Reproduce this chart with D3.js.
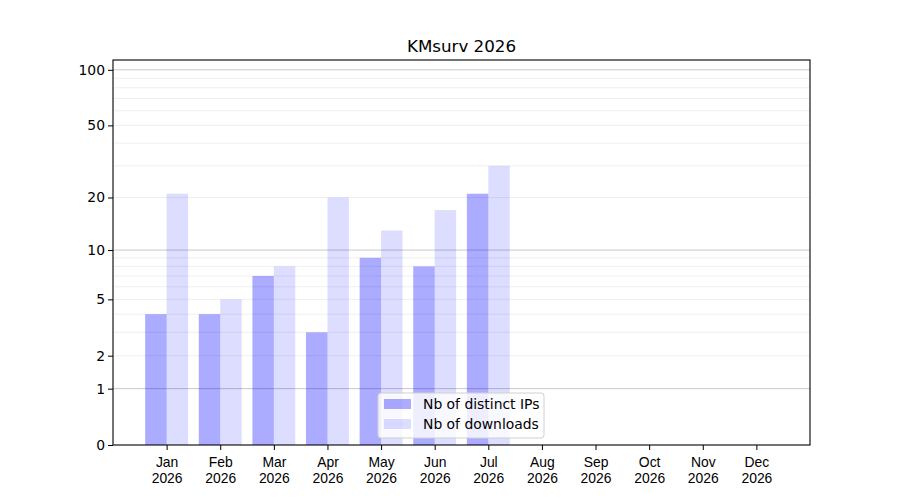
<!DOCTYPE html>
<html>
<head>
<meta charset="utf-8">
<script src="https://cdn.jsdelivr.net/npm/d3@7"></script>
<style>
  body { margin: 0; background: #fff; }
  svg { font-family: "DejaVu Sans", sans-serif; }
</style>
</head>
<body>
<div id="chart"></div>
<script>
// data
const months = ['Jan', 'Feb', 'Mar', 'Apr', 'May', 'Jun', 'Jul', 'Aug', 'Sep', 'Oct', 'Nov', 'Dec'];
const year = '2026';
const distinctIPs = [4, 4, 7, 3, 9, 8, 21, null, null, null, null, null];
const downloads = [21, 5, 8, 20, 13, 17, 30, null, null, null, null, null];
const yTicks = [0, 1, 2, 5, 10, 20, 50, 100];
const majorGrid = [1, 10, 100];
const minorGrid = [2, 3, 4, 5, 6, 7, 8, 9, 20, 30, 40, 50, 60, 70, 80, 90];

const width = 900, height = 500;
const margin = { top: 60, right: 90, bottom: 55, left: 113 };
const innerW = width - margin.left - margin.right;
const innerH = height - margin.top - margin.bottom;

const svg = d3.select('#chart').append('svg')
  .attr('width', width)
  .attr('height', height);

const g = svg.append('g')
  .attr('transform', `translate(${margin.left},${margin.top})`);

// month index scale, one empty slot on each side
const x = d3.scaleLinear().domain([-1, 12]).range([0, innerW]);
const y = d3.scaleSymlog().constant(1).domain([0, 113]).range([innerH, 0]);
const barW = (x(1) - x(0)) * 0.4;

// gridlines
g.selectAll('.minor').data(minorGrid).enter().append('line')
  .attr('x1', 0).attr('x2', innerW)
  .attr('y1', d => y(d)).attr('y2', d => y(d))
  .attr('stroke', '#ebebeb').attr('stroke-width', 0.8);
g.selectAll('.major').data(majorGrid).enter().append('line')
  .attr('x1', 0).attr('x2', innerW)
  .attr('y1', d => y(d)).attr('y2', d => y(d))
  .attr('stroke', '#c8c8c8').attr('stroke-width', 1);

// bars
const ipData = distinctIPs.map((v, i) => ({ i, v })).filter(d => d.v != null);
const dlData = downloads.map((v, i) => ({ i, v })).filter(d => d.v != null);

g.selectAll('.ip').data(ipData).enter().append('rect')
  .attr('x', d => x(d.i) - barW)
  .attr('width', barW)
  .attr('y', d => y(d.v))
  .attr('height', d => innerH - y(d.v))
  .attr('fill', 'blue').attr('fill-opacity', 0.33);

g.selectAll('.dl').data(dlData).enter().append('rect')
  .attr('x', d => x(d.i))
  .attr('width', barW)
  .attr('y', d => y(d.v))
  .attr('height', d => innerH - y(d.v))
  .attr('fill', 'blue').attr('fill-opacity', 0.135);

// axes
const xAxis = g.append('g')
  .attr('transform', `translate(0,${innerH})`)
  .call(d3.axisBottom(x).tickValues(d3.range(12)).tickSize(5).tickSizeOuter(0).tickFormat(''));
xAxis.selectAll('.tick').each(function(d) {
  const t = d3.select(this).append('text')
    .attr('fill', '#000').attr('font-size', '13.9px')
    .attr('text-anchor', 'middle').attr('y', 22);
  t.append('tspan').attr('x', 0).text(months[d]);
  t.append('tspan').attr('x', 0).attr('dy', '1.15em').text(year);
});

const yAxis = g.append('g')
  .call(d3.axisLeft(y).tickValues(yTicks).tickSize(5).tickSizeOuter(0).tickFormat(d3.format('d')));
yAxis.selectAll('text').attr('font-size', '13.9px').attr('fill', '#000')
  .attr('font-family', '"DejaVu Sans", sans-serif');

svg.selectAll('.domain').remove();
svg.selectAll('.tick line').attr('stroke', '#000').attr('stroke-width', 1);

// frame
g.append('rect')
  .attr('width', innerW).attr('height', innerH)
  .attr('fill', 'none').attr('stroke', '#000').attr('stroke-width', 1.1);

// title
svg.append('text')
  .attr('x', margin.left + innerW / 2).attr('y', 52)
  .attr('text-anchor', 'middle')
  .attr('font-size', '16.7px')
  .text('KMsurv 2026');

// legend
const legend = svg.append('g').attr('transform', 'translate(378,393)');
legend.append('rect')
  .attr('width', 166).attr('height', 45).attr('rx', 3)
  .attr('fill', '#fff').attr('fill-opacity', 0.8)
  .attr('stroke', '#d0d0d0');
const items = [
  { label: 'Nb of distinct IPs', op: 0.33 },
  { label: 'Nb of downloads', op: 0.135 }
];
items.forEach((it, k) => {
  legend.append('rect')
    .attr('x', 6).attr('y', 6 + k * 20).attr('width', 27).attr('height', 10)
    .attr('fill', 'blue').attr('fill-opacity', it.op);
  legend.append('text')
    .attr('x', 45).attr('y', 16 + k * 20)
    .attr('font-size', '13.9px')
    .text(it.label);
});
</script>
</body>
</html>
